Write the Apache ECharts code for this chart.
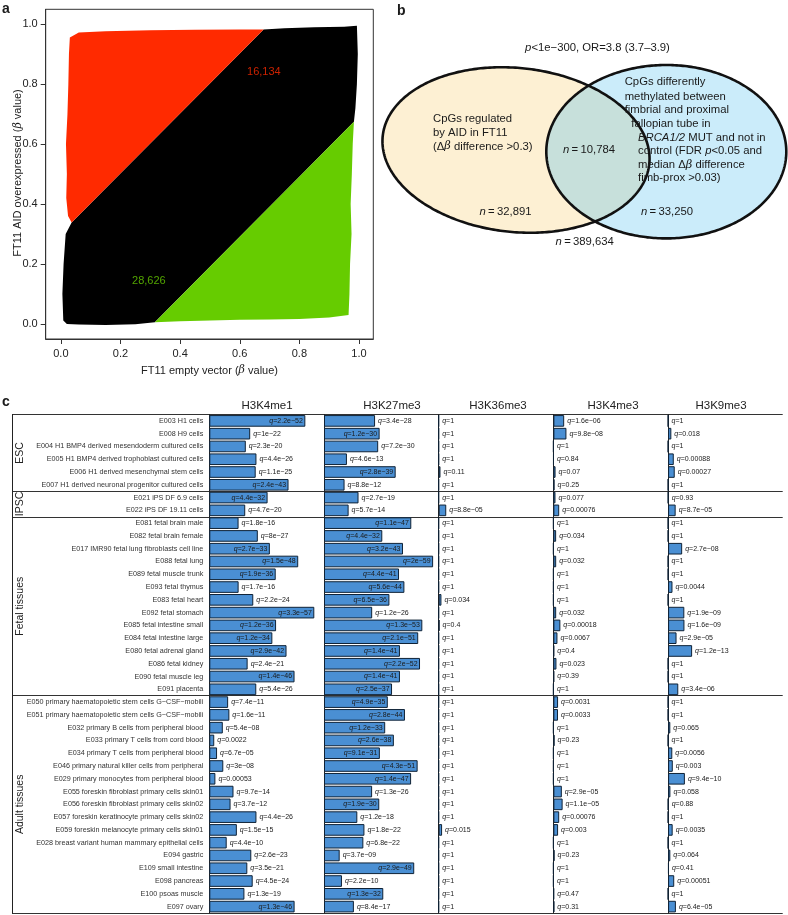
<!DOCTYPE html>
<html><head><meta charset="utf-8">
<script src="https://cdn.jsdelivr.net/npm/echarts@6/dist/echarts.min.js"></script>
<style>html,body{margin:0;padding:0;background:#fff}#c{width:788px;height:915px}</style>
</head><body><div id="c"></div>
<script>
const FONT = '"Liberation Sans", Arial, Helvetica, sans-serif';

// ---------- Panel a : scatter regions (beta values) ----------
const scatterTicks = [0, 0.2, 0.4, 0.6, 0.8, 1.0];
const blackRegion = [[0.008,0.012],[0.005,0.1],[0.009,0.2],[0.016,0.3],[0.036,0.338],[0.68,0.982],[0.75,0.986],[0.85,0.989],[0.95,0.991],[0.993,0.994],[0.996,0.9],[0.993,0.8],[0.988,0.72],[0.983,0.674],[0.315,0.006],[0.25,-0.001],[0.15,-0.003],[0.06,-0.002],[0.02,0.0]];
const redRegion = [[0.036,0.338],[0.024,0.36],[0.018,0.42],[0.02,0.5],[0.017,0.6],[0.022,0.7],[0.025,0.8],[0.027,0.9],[0.03,0.955],[0.06,0.972],[0.15,0.976],[0.3,0.979],[0.45,0.981],[0.6,0.982],[0.68,0.982]];
const greenRegion = [[0.315,0.006],[0.983,0.674],[0.979,0.6],[0.976,0.5],[0.972,0.4],[0.975,0.3],[0.97,0.2],[0.968,0.1],[0.965,0.03],[0.9,0.022],[0.8,0.017],[0.7,0.015],[0.6,0.014],[0.5,0.012],[0.4,0.009]];
const scatterRegions = [blackRegion, redRegion, greenRegion];
const regionColors = ['#000000', '#ff2a00', '#66cc00'];
const countLabels = ['16,134', '28,626'];
const countPos = [[0.681, 0.841], [0.295, 0.143]];
const countColors = ['#ff2a00', '#66cc00'];

// ---------- Panel b : Venn ----------
const vennCx = [516, 666.3];
const vennCy = [150, 151.7];
const vennRx = [134, 120];
const vennRy = [82, 86.7];
const vennAngleDeg = [6, 0];
const vennFills = ['#fdf0d3', '#cbecfa'];
const vennInterFill = '#c7e0db';

// ---------- Panel c : table ----------
const marks = ['H3K4me1', 'H3K27me3', 'H3K36me3', 'H3K4me3', 'H3K9me3'];
const groups = ['ESC', 'IPSC', 'Fetal tissues', 'Adult tissues'];
const groupSizes = [6, 2, 14, 17];
const samples = [
 'E003 H1 cells','E008 H9 cells','E004 H1 BMP4 derived mesendoderm cultured cells','E005 H1 BMP4 derived trophoblast cultured cells','E006 H1 derived mesenchymal stem cells','E007 H1 derived neuronal progenitor cultured cells',
 'E021 iPS DF 6.9 cells','E022 iPS DF 19.11 cells',
 'E081 fetal brain male','E082 fetal brain female','E017 IMR90 fetal lung fibroblasts cell line','E088 fetal lung','E089 fetal muscle trunk','E093 fetal thymus','E083 fetal heart','E092 fetal stomach','E085 fetal intestine small','E084 fetal intestine large','E080 fetal adrenal gland','E086 fetal kidney','E090 fetal muscle leg','E091 placenta',
 'E050 primary haematopoietic stem cells G\u2212CSF\u2212mobili','E051 primary haematopoietic stem cells G\u2212CSF\u2212mobili','E032 primary B cells from peripheral blood','E033 primary T cells from cord blood','E034 primary T cells from peripheral blood','E046 primary natural killer cells from peripheral','E029 primary monocytes from peripheral blood','E055 foreskin fibroblast primary cells skin01','E056 foreskin fibroblast primary cells skin02','E057 foreskin keratinocyte primary cells skin02','E059 foreskin melanocyte primary cells skin01','E028 breast variant human mammary epithelial cells','E094 gastric','E109 small intestine','E098 pancreas','E100 psoas muscle','E097 ovary'];
const qH3K4me1 = ['2.2e-52','1e-22','2.3e-20','4.4e-26','1.1e-25','2.4e-43','4.4e-32','4.7e-20','1.8e-16','8e-27','2.7e-33','1.5e-48','1.9e-36','1.7e-16','2.2e-24','3.3e-57','1.2e-36','1.2e-34','2.9e-42','2.4e-21','1.4e-46','5.4e-26','7.4e-11','1.6e-11','5.4e-08','0.0022','6.7e-05','3e-08','0.00053','9.7e-14','3.7e-12','4.4e-26','1.5e-15','4.4e-10','2.6e-23','3.5e-21','4.5e-24','1.3e-19','1.3e-46'];
const qH3K27me3 = ['3.4e-28','1.2e-30','7.2e-30','4.6e-13','2.8e-39','8.8e-12','2.7e-19','5.7e-14','1.1e-47','4.4e-32','3.2e-43','2e-59','4.4e-41','5.6e-44','6.5e-36','1.2e-26','1.3e-53','2.1e-51','1.4e-41','2.2e-52','1.4e-41','2.5e-37','4.9e-35','2.8e-44','1.2e-33','2.6e-38','9.1e-31','4.3e-51','1.4e-47','1.3e-26','1.9e-30','1.2e-18','1.8e-22','6.8e-22','3.7e-09','2.9e-49','2.2e-10','1.3e-32','8.4e-17'];
const qH3K36me3 = ['1','1','1','1','0.11','1','1','8.8e-05','1','1','1','1','1','1','0.034','1','0.4','1','1','1','1','1','1','1','1','1','1','1','1','1','1','1','0.015','1','1','1','1','1','1'];
const qH3K4me3 = ['1.6e-06','9.8e-08','1','0.84','0.07','0.25','0.077','0.00076','1','0.034','1','0.032','1','1','1','0.032','0.00018','0.0067','0.4','0.023','0.39','1','0.0031','0.0033','1','0.23','1','1','1','2.9e-05','1.1e-05','0.00076','0.003','1','0.23','1','1','0.47','0.31'];
const qH3K9me3 = ['1','0.018','1','0.00088','0.00027','1','0.93','8.7e-05','1','1','2.7e-08','1','1','0.0044','1','1.9e-09','1.6e-09','2.9e-05','1.2e-13','1','1','3.4e-06','1','1','0.065','1','0.0056','0.003','9.4e-10','0.058','0.88','1','0.0035','1','0.064','0.41','0.00051','1','6.4e-05'];
const qTable = [qH3K4me1, qH3K27me3, qH3K36me3, qH3K4me3, qH3K9me3];

// ---------- layout ----------
const COL0 = 209.3, COLW = 114.7, TTOP = 414.5, TH = 498.5, XMAX = 61.7;
const markTitleX = [267, 392, 498, 613, 721];
const rowH = TH / samples.length;
const groupStarts = []; { let s = 0; groupSizes.forEach(n => { groupStarts.push(s); s += n; }); }

const chart = echarts.init(document.getElementById('c'), null, {renderer: 'canvas'});

const grids = [
  {left: 45.7, top: 9.3, width: 327.6, height: 329.7, show: true, borderColor: '#333', borderWidth: 1}
];
const xAxes = [{
  type: 'value', gridIndex: 0, min: -0.051, max: 1.048,
  axisLine: {show: true, onZero: false, lineStyle: {color: '#333'}},
  axisTick: {show: true, inside: false, length: 5, lineStyle: {color: '#333'}, customValues: scatterTicks},
  axisLabel: {customValues: scatterTicks, formatter: v => v.toFixed(1), fontSize: 11, color: '#222', fontFamily: FONT, margin: 9},
  splitLine: {show: false},
  name: 'FT11 empty vector ({i|β} value)', nameLocation: 'middle', nameGap: 26,
  nameTextStyle: {fontSize: 11, color: '#222', fontFamily: FONT, rich: {i: {fontStyle: 'italic', fontSize: 11, fontFamily: 'DejaVu Serif, serif', color: '#222'}}}
}];
const yAxes = [{
  type: 'value', gridIndex: 0, min: -0.05, max: 1.049,
  axisLine: {show: true, onZero: false, lineStyle: {color: '#333'}},
  axisTick: {show: true, inside: false, length: 5, lineStyle: {color: '#333'}, customValues: scatterTicks},
  axisLabel: {customValues: scatterTicks, formatter: v => v.toFixed(1), fontSize: 11, color: '#222', fontFamily: FONT, margin: 8},
  splitLine: {show: false}
}];
const series = [];

series.push({
  type: 'custom', xAxisIndex: 0, yAxisIndex: 0, silent: true,
  data: scatterRegions.map(() => [0, 0]),
  renderItem: (params, api) => ({
    type: 'polygon',
    shape: {points: scatterRegions[params.dataIndex].map(p => api.coord(p))},
    style: {fill: regionColors[params.dataIndex]}
  })
});
series.push({
  type: 'scatter', xAxisIndex: 0, yAxisIndex: 0, symbolSize: 0, silent: true, z: 5,
  data: countLabels.map((t, i) => ({value: [countPos[i][0], countPos[i][1], t],
    label: {color: countColors[i]}})),
  label: {show: true, position: 'inside', formatter: p => p.value[2], fontSize: 11, fontFamily: FONT}
});

// table columns
marks.forEach((m, k) => {
  const gi = k + 1;
  grids.push({left: COL0 + k * COLW, top: TTOP, width: COLW, height: TH});
  xAxes.push({type: 'value', gridIndex: gi, min: 0, max: XMAX, show: false});
  yAxes.push({
    type: 'category', gridIndex: gi, data: samples, inverse: true,
    axisLine: {show: true, lineStyle: {color: '#222', width: 1}},
    axisTick: {show: false},
    axisLabel: k === 0 ? {show: true, fontSize: 7.2, color: '#333', fontFamily: FONT, margin: 6, interval: 0} : {show: false},
    splitLine: {show: false}
  });
  const vals = qTable[k].map(s => Math.max(0, -Math.log10(parseFloat(s))));
  series.push({
    type: 'bar', xAxisIndex: gi, yAxisIndex: gi, barCategoryGap: '9%', silent: true,
    itemStyle: {color: '#4a8fd3', borderColor: '#0f2236', borderWidth: 1},
    data: vals.map(v => ({value: v, label: v > 29.4 ? {position: 'insideRight', distance: 2.5} : {position: 'right', distance: 3}})),
    label: {show: true, fontSize: 7, color: '#1a1a1a', fontFamily: FONT,
      formatter: p => '{i|q}=' + qTable[k][p.dataIndex].replace(/-/g, '\u2212'),
      rich: {i: {fontStyle: 'italic', fontSize: 7, fontFamily: FONT, color: '#1a1a1a'}}}
  });
});

// background grid for table rules
grids.push({left: 12, top: TTOP, width: 782.7 - 12, height: TH});
xAxes.push({type: 'value', gridIndex: 6, min: 0, max: 1, show: false});
yAxes.push({
  type: 'category', gridIndex: 6, data: samples, inverse: true, position: 'right',
  axisLine: {show: true, lineStyle: {color: '#222', width: 1}},
  axisTick: {show: false}, axisLabel: {show: false},
  splitLine: {show: true, interval: (idx) => groupStarts.indexOf(idx) >= 0, lineStyle: {color: '#333', width: 1.2}}
});

// Venn grid (units == px of the panel)
grids.push({left: 380, top: 0, width: 408, height: 260});
xAxes.push({type: 'value', gridIndex: 7, min: 380, max: 788, show: false});
yAxes.push({type: 'value', gridIndex: 7, min: 0, max: 260, inverse: true, show: false});
function inside(i, x, y) {
  const a = vennAngleDeg[i] * Math.PI / 180, X = x - vennCx[i], Y = y - vennCy[i];
  const u = (X * Math.cos(a) + Y * Math.sin(a)) / vennRx[i], v = (-X * Math.sin(a) + Y * Math.cos(a)) / vennRy[i];
  return u * u + v * v <= 1;
}
function ellipsePts(i, t0) {
  const a = vennAngleDeg[i] * Math.PI / 180, N = 360, out = [];
  for (let k = 0; k < N; k++) {
    const t = t0 + 2 * Math.PI * k / N, c = vennRx[i] * Math.cos(t), s = vennRy[i] * Math.sin(t);
    out.push([vennCx[i] + c * Math.cos(a) - s * Math.sin(a), vennCy[i] + c * Math.sin(a) + s * Math.cos(a)]);
  }
  return out;
}
series.push({
  type: 'custom', xAxisIndex: 7, yAxisIndex: 7, silent: true, data: [[400, 100]], z: 1,
  renderItem: (params, api) => {
    const L = ellipsePts(0, -Math.PI), R = ellipsePts(1, 0);
    const inter = L.filter(p => inside(1, p[0], p[1])).concat(R.filter(p => inside(0, p[0], p[1])));
    const c = a => a.map(p => api.coord(p));
    return {type: 'group', children: [
      {type: 'polygon', shape: {points: c(L)}, style: {fill: vennFills[0]}},
      {type: 'polygon', shape: {points: c(R)}, style: {fill: vennFills[1]}},
      {type: 'polygon', shape: {points: c(inter)}, style: {fill: vennInterFill}},
      {type: 'polygon', shape: {points: c(L)}, style: {fill: null, stroke: '#111', lineWidth: 2.6}},
      {type: 'polygon', shape: {points: c(R)}, style: {fill: null, stroke: '#111', lineWidth: 2.6}}
    ]};
  }
});

// ---------- text ----------
function rich(fs) {
  return {
    i: {fontStyle: 'italic', fontSize: fs, fontFamily: FONT, fill: '#1a1a1a'},
    g: {fontStyle: 'italic', fontSize: fs, fontFamily: 'DejaVu Serif, serif', fill: '#1a1a1a'},
    t: {fontSize: fs, fontFamily: FONT, fill: '#1a1a1a'}
  };
}
function txt(x, y, text, o) {
  o = o || {};
  const fs = o.fontSize || 11.3;
  return {type: 'text', x: x, y: y, z: 100, rotation: o.rotation || 0, silent: true,
    style: {text: text, fontSize: fs, fontFamily: FONT, fill: o.fill || '#1a1a1a', fontWeight: o.fontWeight || 'normal',
      align: o.align || 'left', verticalAlign: 'middle', rich: rich(fs)}};
}
const TS = '\u2009';
const graphics = [
  txt(2, 9, 'a', {fontWeight: 'bold', fontSize: 14}),
  txt(397, 11, 'b', {fontWeight: 'bold', fontSize: 14}),
  txt(2, 402.5, 'c', {fontWeight: 'bold', fontSize: 14}),
  txt(18.3, 173, 'FT11 AID overexpressed ({g|β} value)', {align: 'center', fontSize: 11, rotation: Math.PI / 2, fill: '#222'}),
  txt(597.5, 47.7, '{i|p}<' + '1e\u2212300, OR=3.8 (3.7\u20133.9)', {align: 'center'}),
  txt(433, 118.5, 'CpGs regulated'),
  txt(433, 132.5, 'by AID in FT11'),
  txt(433, 146.5, '(\u0394{g|β} difference >0.3)'),
  txt(589, 150, '{i|n}' + TS + '=' + TS + '10,784', {align: 'center'}),
  txt(505.5, 211.7, '{i|n}' + TS + '=' + TS + '32,891', {align: 'center'}),
  txt(667, 211.7, '{i|n}' + TS + '=' + TS + '33,250', {align: 'center'}),
  txt(584.7, 241.7, '{i|n}' + TS + '=' + TS + '389,634', {align: 'center'}),
  txt(624.7, 81.7, 'CpGs differently'),
  txt(624.7, 96.7, 'methylated between'),
  txt(624.7, 110.3, 'fimbrial and proximal'),
  txt(631.3, 124.3, 'fallopian tube in'),
  txt(638, 137.7, '{i|BRCA1/2} MUT and not in'),
  txt(638, 151.2, 'control (FDR {i|p}<0.05 and'),
  txt(638, 164.6, 'median \u0394{g|β} difference'),
  txt(638, 178.3, 'fimb-prox >0.03)')
];
marks.forEach((m, k) => graphics.push(txt(markTitleX[k], 405.7, m, {align: 'center', fontSize: 11.5, fill: '#222'})));
groups.forEach((g, i) => {
  const cy = TTOP + (groupStarts[i] + groupSizes[i] / 2) * rowH;
  graphics.push(txt(20, cy, g, {align: 'center', fontSize: 10.5, rotation: Math.PI / 2, fill: '#222'}));
});

chart.setOption({
  animation: false,
  backgroundColor: '#fff',
  textStyle: {fontFamily: FONT},
  grid: grids, xAxis: xAxes, yAxis: yAxes, series: series,
  graphic: {elements: graphics}
});
</script></body></html>
